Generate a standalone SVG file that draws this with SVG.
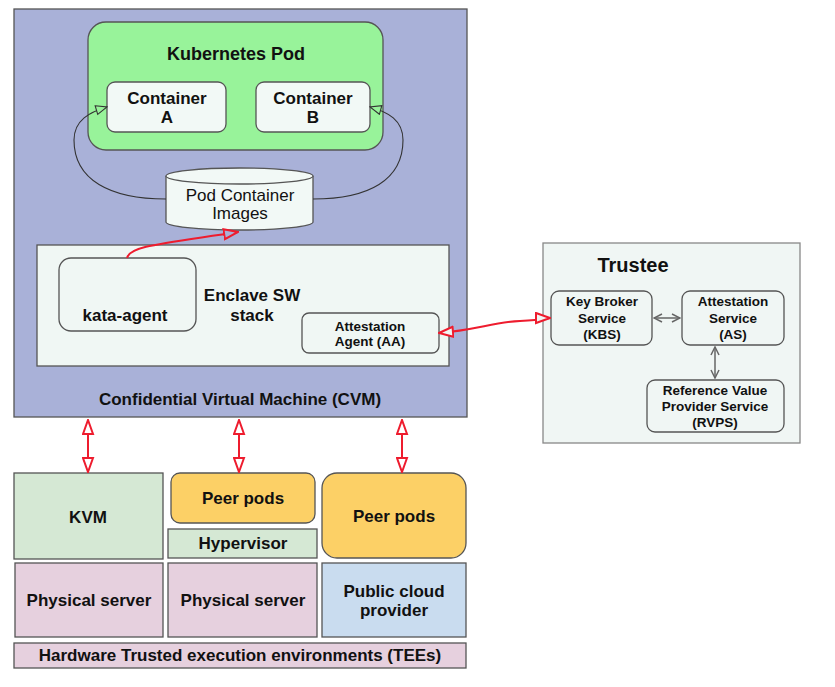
<svg xmlns="http://www.w3.org/2000/svg" width="835" height="687" viewBox="0 0 835 687">
<defs>
<style>
text{font-family:"Liberation Sans",Arial,sans-serif;fill:#111;text-anchor:middle}
.b{font-weight:bold}
.box{stroke:#555;stroke-width:1.3}
.red{fill:none;stroke:#ee1c2e;stroke-width:2}
.blk{fill:none;stroke:#333;stroke-width:1.1}
.gry{fill:none;stroke:#666;stroke-width:1.5}
</style>
<marker id="rw" markerUnits="userSpaceOnUse" markerWidth="16" markerHeight="13" viewBox="0 0 16 13" refX="15" refY="6.5" orient="auto-start-reverse">
<path d="M1,1.5 L15,6.5 L1,11.5 z" fill="#ffffff" stroke="#ee1c2e" stroke-width="2"/>
</marker>
<marker id="rl" markerUnits="userSpaceOnUse" markerWidth="16" markerHeight="13" viewBox="0 0 16 13" refX="15" refY="6.5" orient="auto-start-reverse">
<path d="M1,1.5 L15,6.5 L1,11.5 z" fill="#a9b1d8" stroke="#ee1c2e" stroke-width="2"/>
</marker>
<marker id="rf" markerUnits="userSpaceOnUse" markerWidth="16" markerHeight="13" viewBox="0 0 16 13" refX="15" refY="6.5" orient="auto-start-reverse">
<path d="M1,1.5 L15,6.5 L1,11.5 z" fill="#f0f7f4" stroke="#ee1c2e" stroke-width="2"/>
</marker>
<marker id="bk" markerUnits="userSpaceOnUse" markerWidth="13" markerHeight="11" viewBox="0 0 13 11" refX="12" refY="5.5" orient="auto">
<path d="M1,1 L12,5.5 L1,10 z" fill="#98f39a" stroke="#333" stroke-width="1.1"/>
</marker>
<marker id="gv" markerUnits="userSpaceOnUse" markerWidth="10" markerHeight="10" viewBox="0 0 10 10" refX="9" refY="5" orient="auto-start-reverse">
<path d="M1,1 L9,5 L1,9" fill="none" stroke="#666" stroke-width="1.5"/>
</marker>
</defs>
<rect width="835" height="687" fill="#ffffff"/>

<g id="cvm">
<rect class="box" x="14" y="9" width="453" height="408" fill="#a9b1d8"/>
<text class="b" x="240" y="405" font-size="17">Confidential Virtual Machine (CVM)</text>
</g>

<g id="k8s-pod">
<rect class="box" x="88" y="22" width="295" height="128" rx="18" fill="#98f39a"/>
<text class="b" x="236" y="60" font-size="18">Kubernetes Pod</text>
</g>

<g id="container-a">
<rect class="box" x="107" y="82" width="119" height="50" rx="8" fill="#f2f9f6"/>
<text class="b" x="167" y="104" font-size="17">Container</text>
<text class="b" x="167" y="123" font-size="17">A</text>
</g>

<g id="container-b">
<rect class="box" x="256" y="82" width="114" height="50" rx="8" fill="#f2f9f6"/>
<text class="b" x="313" y="104" font-size="17">Container</text>
<text class="b" x="313" y="123" font-size="17">B</text>
</g>

<g id="pod-images">
<path class="box" d="M166,176 L166,222 A73.5,8 0 0 0 313,222 L313,176" fill="#f2f9f6"/>
<ellipse class="box" cx="239.5" cy="176" rx="73.5" ry="8" fill="#f2f9f6"/>
<text x="240" y="201" font-size="17">Pod Container</text>
<text x="240" y="219" font-size="17">Images</text>
</g>

<g id="enclave">
<rect class="box" x="37" y="245" width="412" height="121" fill="#f0f7f4"/>
<text class="b" x="252" y="301" font-size="17">Enclave SW</text>
<text class="b" x="252" y="321" font-size="17">stack</text>
</g>

<g id="kata-agent">
<rect class="box" x="59" y="258" width="137" height="73" rx="12" fill="#f0f7f4"/>
<text class="b" x="125" y="321" font-size="17">kata-agent</text>
</g>

<g id="aa">
<rect class="box" x="302" y="313" width="137" height="40" rx="7" fill="#f0f7f4"/>
<text class="b" x="370" y="331" font-size="13.5">Attestation</text>
<text class="b" x="370" y="346" font-size="13.5">Agent (AA)</text>
</g>

<g id="trustee">
<rect x="543" y="243" width="257" height="200" fill="#f0f6f4" stroke="#888" stroke-width="1.3"/>
<text class="b" x="633" y="272" font-size="20">Trustee</text>
</g>

<g id="kbs">
<rect class="box" x="551" y="291" width="101" height="54" rx="8" fill="#f0f6f4"/>
<text class="b" x="602" y="306" font-size="13.5">Key Broker</text>
<text class="b" x="602" y="323" font-size="13.5">Service</text>
<text class="b" x="602" y="339" font-size="13.5">(KBS)</text>
</g>

<g id="as">
<rect class="box" x="682" y="291" width="102" height="54" rx="8" fill="#f0f6f4"/>
<text class="b" x="733" y="306" font-size="13.5">Attestation</text>
<text class="b" x="733" y="323" font-size="13.5">Service</text>
<text class="b" x="733" y="339" font-size="13.5">(AS)</text>
</g>

<g id="rvps">
<rect class="box" x="647" y="380" width="137" height="52" rx="8" fill="#f0f6f4"/>
<text class="b" x="715" y="395" font-size="13.5">Reference Value</text>
<text class="b" x="715" y="411" font-size="13.5">Provider Service</text>
<text class="b" x="715" y="427" font-size="13.5">(RVPS)</text>
</g>

<g id="kvm">
<rect class="box" x="14" y="473" width="149" height="86" fill="#d5e8d4"/>
<text class="b" x="88" y="523" font-size="17">KVM</text>
</g>

<g id="peer-pods-1">
<rect class="box" x="171" y="473" width="144" height="50" rx="9" fill="#fcd066"/>
<text class="b" x="243" y="504" font-size="17">Peer pods</text>
</g>

<g id="hypervisor">
<rect class="box" x="168" y="529" width="149" height="29" fill="#d5e8d4"/>
<text class="b" x="243" y="549" font-size="17">Hypervisor</text>
</g>

<g id="peer-pods-2">
<rect class="box" x="322" y="473" width="144" height="85" rx="15" fill="#fcd066"/>
<text class="b" x="394" y="522" font-size="17">Peer pods</text>
</g>

<g id="physical-server-1">
<rect class="box" x="15" y="563" width="148" height="74" fill="#e6d0de"/>
<text class="b" x="89" y="606" font-size="17">Physical server</text>
</g>

<g id="physical-server-2">
<rect class="box" x="168" y="563" width="149" height="74" fill="#e6d0de"/>
<text class="b" x="243" y="606" font-size="17">Physical server</text>
</g>

<g id="public-cloud">
<rect class="box" x="322" y="563" width="144" height="74" fill="#c9dcef"/>
<text class="b" x="394" y="597" font-size="17">Public cloud</text>
<text class="b" x="394" y="616" font-size="17">provider</text>
</g>

<g id="tees">
<rect class="box" x="14" y="643" width="452" height="25" fill="#e6d0de"/>
<text class="b" x="240" y="661" font-size="17">Hardware Trusted execution environments (TEEs)</text>
</g>

<g id="connectors">
<path class="blk" d="M166,199 C110,199 74,180 74,140 C74,120 90,112 107,107" marker-end="url(#bk)"/>
<path class="blk" d="M313,199 C369,199 403,180 403,140 C403,120 388,112 370,107" marker-end="url(#bk)"/>
<path class="red" d="M127,258 C130,246 160,244 238,232" marker-end="url(#rl)"/>
<path class="red" d="M439,333 C475,330 495,322 520,321 S545,318 550,318" marker-start="url(#rf)" marker-end="url(#rf)"/>
<path class="gry" d="M654,318 L680,318" marker-start="url(#gv)" marker-end="url(#gv)"/>
<path class="gry" d="M715,347 L715,378" marker-start="url(#gv)" marker-end="url(#gv)"/>
<path class="red" d="M88,420 L88,472" marker-start="url(#rw)" marker-end="url(#rw)"/>
<path class="red" d="M239,420 L239,472" marker-start="url(#rw)" marker-end="url(#rw)"/>
<path class="red" d="M402,420 L402,472" marker-start="url(#rw)" marker-end="url(#rw)"/>
</g>
</svg>
